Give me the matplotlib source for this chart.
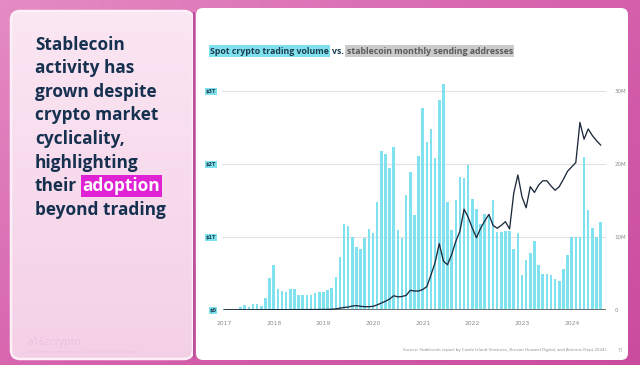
import matplotlib
matplotlib.use('Agg')
import matplotlib.pyplot as plt
from matplotlib.patches import FancyBboxPatch, Rectangle
from matplotlib.colors import LinearSegmentedColormap
import numpy as np

# ---------------- data ----------------
years = ['2017', '2018', '2019', '2020', '2021', '2022', '2023', '2024']
left_ticks = ['$0', '$1T', '$2T', '$3T']
right_ticks = ['0', '10M', '20M', '30M']

# monthly spot crypto trading volume (trillions USD), Jan 2017 .. Aug 2024
volume_T = [
    0.01, 0.01, 0.015, 0.02, 0.04, 0.07, 0.04, 0.08, 0.08, 0.06, 0.16, 0.44,
    0.61, 0.29, 0.26, 0.24, 0.29, 0.29, 0.20, 0.21, 0.20, 0.20, 0.23, 0.24,
    0.24, 0.27, 0.30, 0.45, 0.73, 1.18, 1.15, 1.00, 0.86, 0.84, 0.98, 1.11,
    1.05, 1.48, 2.18, 2.14, 1.95, 2.23, 1.09, 0.98, 1.57, 1.89, 1.30, 2.11,
    2.77, 2.30, 2.48, 2.08, 2.87, 3.09, 1.48, 1.10, 1.50, 1.82, 1.81, 1.99,
    1.52, 1.39, 1.18, 1.32, 1.30, 1.51, 1.07, 1.07, 1.08, 1.08, 0.84, 1.05,
    0.48, 0.68, 0.78, 0.94, 0.62, 0.50, 0.50, 0.48, 0.42, 0.40, 0.56, 0.75,
    1.00, 1.00, 1.00, 2.10, 1.37, 1.12, 1.00, 1.21,
]

# stablecoin monthly sending addresses (millions)
addresses_M = [
    0.01, 0.01, 0.01, 0.01, 0.02, 0.02, 0.02, 0.02, 0.03, 0.03, 0.03, 0.04,
    0.04, 0.04, 0.04, 0.05, 0.05, 0.05, 0.05, 0.05, 0.06, 0.06, 0.06, 0.07,
    0.07, 0.08, 0.10, 0.15, 0.25, 0.35, 0.40, 0.55, 0.60, 0.50, 0.45, 0.45,
    0.50, 0.70, 0.95, 1.20, 1.50, 1.95, 1.80, 1.85, 2.00, 2.70, 2.60, 2.60,
    2.80, 3.20, 4.80, 6.50, 9.10, 6.70, 6.20, 7.60, 9.40, 10.80, 13.80, 12.70,
    11.20, 9.90, 11.20, 12.20, 13.10, 11.60, 11.20, 11.60, 12.10, 11.10, 16.00, 18.50,
    15.50, 14.00, 16.90, 16.10, 17.10, 17.70, 17.70, 17.00, 16.40, 16.90, 17.90, 19.00,
    19.60, 20.20, 25.70, 23.40, 24.80, 23.90, 23.20, 22.60,
]

heading_lines = ['Stablecoin', 'activity has', 'grown despite', 'crypto market',
                 'cyclicality,', 'highlighting', 'their', 'beyond trading']
highlight_word = 'adoption'

W, H = 640, 365
fig = plt.figure(figsize=(6.4, 3.65), dpi=100)
fig.patch.set_facecolor('#d86cb1')

# ---------------- background slide ----------------
bg = fig.add_axes([0, 0, 1, 1], zorder=0)
bg.set_xlim(0, W)
bg.set_ylim(H, 0)
bg.axis('off')

gx, gy = np.meshgrid(np.linspace(0, 1, 64), np.linspace(0, 1, 64))
grad = 0.55 * gx + 0.45 * gy
outer_cmap = LinearSegmentedColormap.from_list('o', ['#e48bc3', '#d662ad', '#ca4c9f'])
bg.imshow(grad, extent=(0, W, H, 0), cmap=outer_cmap, aspect='auto', zorder=0)

# left panel with vertical gradient
lp = FancyBboxPatch((11, 11), 182, 348, boxstyle='round,pad=0,rounding_size=9',
                    fc='none', ec='#fdf0f8', lw=1.8, zorder=2)
bg.add_patch(lp)
left_cmap = LinearSegmentedColormap.from_list('l', ['#fbe6f3', '#f4d0e7'])
im = bg.imshow(np.linspace(0, 1, 64).reshape(-1, 1), extent=(11, 193, 359, 11),
               cmap=left_cmap, aspect='auto', zorder=1)
im.set_clip_path(lp)

# divider and right panel
bg.add_patch(FancyBboxPatch((196, 8), 432, 352, boxstyle='round,pad=0,rounding_size=7',
                            fc='white', ec='none', zorder=2))
bg.add_patch(Rectangle((192.5, 12), 2.5, 346, fc='#b9509a', ec='none', zorder=3))

fig.canvas.draw()
R = fig.canvas.get_renderer()


def wpx(t):
    return t.get_window_extent(R).width


# ---------------- heading ----------------
hfont = dict(family='Open Sans', weight='bold', color='#16304f')
probe = bg.text(0, 0, 'beyond trading', fontsize=12, **hfont)
fs = 12 * 130.0 / wpx(probe)
probe.remove()

y0, dy = 44.5, 23.6
for k, line in enumerate(heading_lines):
    t = bg.text(35, y0 + k * dy, line, fontsize=fs, va='center', ha='left', zorder=5, **hfont)
    if line == 'their':
        sp1 = bg.text(0, 0, 'a a', fontsize=fs, **hfont)
        sp2 = bg.text(0, 0, 'aa', fontsize=fs, **hfont)
        space = wpx(sp1) - wpx(sp2)
        sp1.remove(); sp2.remove()
        x2 = 35 + wpx(t) + space + 1
        bg.text(x2, y0 + k * dy, highlight_word, fontsize=fs, va='center', ha='left',
                family='Open Sans', weight='bold', color='white', zorder=5,
                bbox=dict(fc='#de22d4', ec='none', pad=1.2))

bg.text(27, 342, 'a16zcrypto', fontsize=7.5, color='#efbfdd', family='Open Sans',
        va='center', zorder=5)
bg.text(27, 352, '©2024 Andreessen Horowitz  |  All rights reserved worldwide',
        fontsize=2.8, color='#efbfdd', family='Open Sans', va='center', zorder=5)

# ---------------- chart title ----------------
tfont = dict(family='Open Sans', weight='bold', fontsize=6.3)
t1 = bg.text(210, 51, 'Spot crypto trading volume', color='#1d3d4f', va='center', zorder=5,
             bbox=dict(fc='#7fe0ee', ec='none', pad=1.0), **tfont)
x = 210 + wpx(t1) + 3
t2 = bg.text(x, 51, 'vs.', color='#1d3d4f', va='center', zorder=5, **tfont)
x += wpx(t2) + 3
bg.text(x, 51, 'stablecoin monthly sending addresses', color='#5a5a5a', va='center', zorder=5,
        bbox=dict(fc='#cbcbcb', ec='none', pad=1.0), **tfont)

bg.text(607, 350, 'Source: Stablecoin report by Castle Island Ventures, Brevan Howard Digital, '
        'and Artemis (Sept 2024).', fontsize=3.2, color='#8a8a8a', ha='right', va='center',
        family='Open Sans', zorder=5)
bg.text(620, 350, '11', fontsize=3.5, color='#8a8a8a', ha='center', va='center',
        family='Open Sans', zorder=5)

# ---------------- chart ----------------
px_per_T = 73.0
ymax = 3.15
ax_bottom = (H - 310) / H
ax_height = ymax * px_per_T / H
ax_left = 222 / W
ax_width = (606 - 222) / W
ax = fig.add_axes([ax_left, ax_bottom, ax_width, ax_height], zorder=3)
ax.patch.set_alpha(0)

n = len(volume_T)
xs = np.arange(n)
ax.set_xlim(-0.5, 92.3)
ax.set_ylim(0, ymax)
ax.bar(xs, volume_T, width=0.62, color='#80e2ef', zorder=2)
for v in [1, 2, 3]:
    ax.axhline(v, color='#e2e2e2', lw=0.8, zorder=1)
ax.axhline(0, xmin=0.01, color='#6b6b6b', lw=1.4, zorder=3)

for s in ax.spines.values():
    s.set_visible(False)
ax.set_yticks([0, 1, 2, 3])
ax.set_yticklabels(left_ticks)
ax.tick_params(axis='y', length=0, pad=4, labelsize=3.6, labelcolor='#1d3d4f')
for lab in ax.get_yticklabels():
    lab.set_fontweight('bold')
    lab.set_bbox(dict(fc='#7fe0ee', ec='none', pad=0.6))
ax.set_xticks(np.arange(len(years)) * 12)
ax.set_xticklabels(years)
ax.tick_params(axis='x', length=0, pad=8, labelsize=4.3, labelcolor='#8c8c8c')

ax2 = ax.twinx()
ax2.set_ylim(0, ymax * 10)
ax2.plot(xs, addresses_M, color='#1e2b3d', lw=0.95, zorder=4)
for s in ax2.spines.values():
    s.set_visible(False)
ax2.set_yticks([0, 10, 20, 30])
ax2.set_yticklabels(right_ticks)
ax2.tick_params(axis='y', length=0, pad=6, labelsize=4.0, labelcolor='#8c8c8c')

fig.savefig('out.png', dpi=100, facecolor=fig.get_facecolor())
